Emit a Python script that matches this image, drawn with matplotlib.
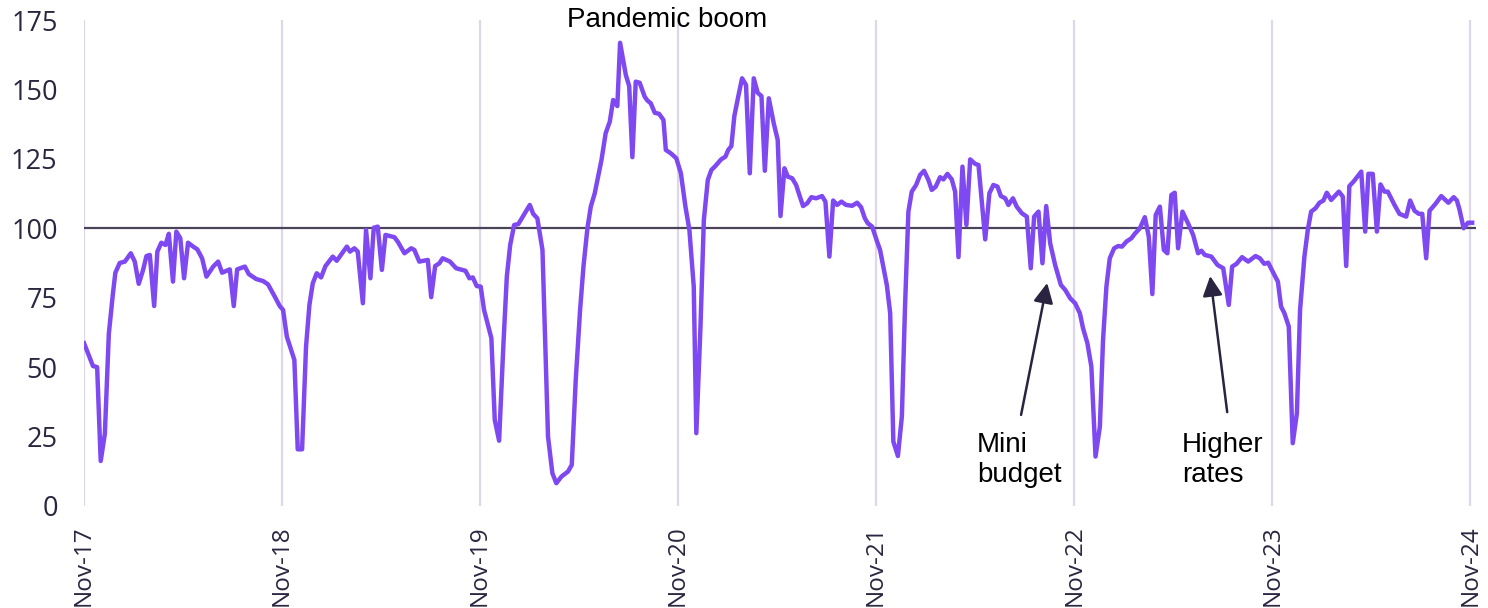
import matplotlib
matplotlib.use("Agg")
import matplotlib.pyplot as plt

years = [
    0.000, 0.045, 0.066, 0.084, 0.105, 0.125, 0.146, 0.158, 0.180, 0.206,
    0.236, 0.256, 0.276, 0.298, 0.315, 0.332, 0.354, 0.370, 0.390, 0.411,
    0.428, 0.449, 0.466, 0.486, 0.505, 0.525, 0.551, 0.572, 0.596, 0.618,
    0.652, 0.677, 0.697, 0.736, 0.756, 0.773, 0.812, 0.832, 0.870, 0.904,
    0.929, 0.963, 0.988, 1.005,
    1.024, 1.062, 1.079, 1.101, 1.121, 1.138, 1.155, 1.175, 1.197, 1.219,
    1.256, 1.276, 1.327, 1.343, 1.365, 1.382, 1.408, 1.424, 1.446, 1.463,
    1.483, 1.504, 1.522, 1.567, 1.584, 1.618, 1.652, 1.668, 1.693, 1.736,
    1.753, 1.773, 1.794, 1.811, 1.848, 1.879, 1.926, 1.946, 1.963, 1.983,
    2.003,
    2.020, 2.057, 2.074, 2.096, 2.118, 2.135, 2.152, 2.172, 2.193, 2.231,
    2.251, 2.268, 2.289, 2.315, 2.343, 2.365, 2.385, 2.411, 2.444, 2.463,
    2.483, 2.505, 2.522, 2.542, 2.559, 2.579, 2.613, 2.634, 2.655, 2.672,
    2.693, 2.707, 2.736, 2.753, 2.769, 2.786, 2.806, 2.831, 2.845, 2.862,
    2.882, 2.904, 2.926, 2.938, 2.963, 2.991, 3.014,
    3.037, 3.057, 3.079, 3.092, 3.113, 3.130, 3.150, 3.168, 3.188, 3.217,
    3.239, 3.253, 3.269, 3.284, 3.303, 3.323, 3.343, 3.362, 3.382, 3.402,
    3.421, 3.438, 3.458, 3.483, 3.503, 3.517, 3.537, 3.554, 3.576, 3.596,
    3.615, 3.631, 3.652, 3.673, 3.697, 3.727, 3.744, 3.764, 3.783, 3.803,
    3.825, 3.848, 3.879, 3.904, 3.924, 3.943, 3.958, 3.980, 4.005,
    4.020, 4.054, 4.071, 4.087, 4.110, 4.130, 4.146, 4.163, 4.180, 4.202,
    4.222, 4.242, 4.264, 4.281, 4.301, 4.323, 4.340, 4.360, 4.382, 4.399,
    4.416, 4.436, 4.456, 4.475, 4.500, 4.517, 4.551, 4.572, 4.592, 4.613,
    4.630, 4.652, 4.668, 4.691, 4.710, 4.736, 4.761, 4.781, 4.798, 4.820,
    4.840, 4.859, 4.879, 4.904, 4.933, 4.955, 4.980, 5.005,
    5.029, 5.045, 5.067, 5.087, 5.108, 5.130, 5.146, 5.163, 5.180, 5.202,
    5.222, 5.242, 5.264, 5.289, 5.306, 5.332, 5.357, 5.377, 5.395, 5.412,
    5.433, 5.453, 5.471, 5.491, 5.508, 5.525, 5.547, 5.579, 5.601, 5.626,
    5.643, 5.660, 5.693, 5.724, 5.753, 5.781, 5.798, 5.820, 5.848, 5.879,
    5.916, 5.938, 5.960, 5.980,
    6.007, 6.029, 6.045, 6.062, 6.084, 6.104, 6.125, 6.141, 6.163, 6.180,
    6.197, 6.219, 6.239, 6.259, 6.276, 6.298, 6.337, 6.357, 6.374, 6.390,
    6.411, 6.450, 6.470, 6.486, 6.508, 6.529, 6.547, 6.567, 6.584, 6.618,
    6.643, 6.677, 6.697, 6.719, 6.741, 6.758, 6.778, 6.795, 6.825, 6.854,
    6.890, 6.917, 6.933, 6.946, 6.967, 6.989, 7.010,
]
index_vals = [
    58.6, 50.4, 50.0, 16.2, 26.0, 62.0, 76.7, 84.0, 87.5, 88.0,
    91.0, 88.0, 80.0, 85.0, 90.0, 90.4, 72.0, 91.6, 94.8, 94.0,
    98.0, 80.8, 98.8, 96.4, 82.0, 94.8, 93.4, 92.4, 89.2, 82.6,
    86.2, 88.0, 84.0, 85.2, 72.0, 85.2, 86.2, 83.5, 81.7, 81.0,
    79.8, 75.4, 72.0, 70.6,
    61.0, 52.6, 20.4, 20.4, 57.4, 72.4, 80.2, 83.8, 82.3, 86.4,
    89.8, 88.3, 93.4, 91.6, 92.8, 91.6, 73.0, 99.4, 82.0, 100.2,
    100.6, 85.0, 97.6, 96.8, 95.2, 91.0, 92.8, 92.2, 88.0, 88.6,
    75.2, 86.4, 87.4, 89.2, 88.0, 85.6, 84.7, 82.0, 82.3, 79.2,
    79.0,
    70.6, 60.4, 31.0, 23.5, 58.6, 82.6, 94.0, 101.2, 101.5, 106.0,
    108.4, 105.2, 103.6, 92.2, 25.0, 11.8, 8.2, 10.6, 12.4, 14.8,
    45.4, 70.6, 86.2, 100.0, 107.8, 112.6, 124.6, 134.2, 138.4, 146.2,
    144.0, 166.8, 155.2, 151.2, 125.6, 152.8, 152.4, 147.4, 146.0, 145.0,
    141.6, 141.2, 139.0, 128.2, 127.0, 125.2, 119.8,
    107.8, 99.4, 79.0, 26.2, 64.6, 103.0, 117.4, 121.0, 122.4, 124.8,
    125.8, 128.2, 129.6, 140.4, 147.2, 154.0, 151.6, 119.8, 154.0, 148.8,
    147.6, 120.7, 146.8, 137.8, 131.8, 104.4, 121.6, 118.6, 118.0, 115.6,
    111.4, 108.0, 109.0, 111.2, 110.8, 111.6, 109.6, 89.8, 110.0, 108.4,
    109.6, 108.4, 108.1, 109.2, 107.6, 103.6, 101.8, 100.6, 95.2,
    92.2, 79.6, 69.4, 23.2, 18.0, 32.2, 71.8, 106.0, 113.2, 115.6,
    119.2, 120.7, 117.4, 113.8, 115.0, 118.4, 117.6, 119.6, 117.6, 113.2,
    89.6, 122.2, 101.2, 124.8, 123.2, 122.8, 96.0, 112.6, 115.6, 115.0,
    111.6, 110.8, 108.4, 110.8, 107.8, 105.4, 104.2, 85.6, 104.2, 106.0,
    87.4, 108.0, 94.6, 86.8, 79.6, 77.8, 74.8, 73.0,
    69.4, 64.0, 58.6, 50.2, 17.8, 28.6, 59.8, 79.0, 89.2, 92.8,
    93.6, 93.4, 95.2, 96.4, 98.0, 100.0, 104.0, 97.0, 76.3, 104.8,
    107.8, 92.2, 91.0, 112.0, 112.8, 92.8, 106.0, 101.2, 97.6, 91.0,
    91.9, 90.4, 89.8, 86.8, 85.6, 72.4, 86.2, 87.2, 89.6, 88.0,
    90.0, 89.2, 87.2, 87.6,
    83.8, 80.8, 71.8, 69.4, 64.6, 22.6, 33.4, 70.6, 89.8, 99.4,
    106.0, 107.2, 109.2, 110.0, 112.8, 110.2, 113.2, 111.4, 86.4, 115.2,
    116.8, 120.4, 98.8, 119.6, 119.6, 98.8, 115.8, 113.2, 113.2, 108.4,
    105.2, 104.2, 110.0, 106.3, 105.2, 105.2, 89.2, 106.3, 108.8, 111.6,
    109.2, 111.2, 110.0, 106.8, 100.0, 102.0, 102.0,
]
tick_labels = ['Nov-17', 'Nov-18', 'Nov-19', 'Nov-20',
               'Nov-21', 'Nov-22', 'Nov-23', 'Nov-24']
y_ticks = [0, 25, 50, 75, 100, 125, 150, 175]

fig = plt.figure(figsize=(14.88, 6.08), dpi=100)
ax = fig.add_axes([0.0565, 0.1678, 0.9355, 0.7993])

x_font = {'family': ['Open Sans', 'DejaVu Sans'], 'size': 17.5}
y_font = {'family': ['Open Sans', 'DejaVu Sans'], 'size': 19.5}
note_font = {'family': ['Liberation Sans', 'DejaVu Sans'], 'size': 20}
text_col = '#2b2540'

for i in range(len(tick_labels)):
    ax.axvline(i, color='#dcd7ea', lw=1.6, zorder=1)
ax.axhline(100, color='#4b4459', lw=1.6, zorder=2)
ax.plot(years, index_vals, color='#7f49f2', lw=3.2, zorder=3,
        solid_joinstyle='round')

ax.set_xlim(0, 7.03)
ax.set_ylim(0, 175)
ax.set_xticks(range(len(tick_labels)))
ax.set_xticklabels(tick_labels, rotation=90, color=text_col, **x_font)
ax.set_yticks(y_ticks)
ax.set_yticklabels([str(v) for v in y_ticks], color=text_col, **y_font)
ax.tick_params(axis='both', length=0)
ax.tick_params(axis='y', pad=19)
ax.tick_params(axis='x', pad=14)
for s in ax.spines.values():
    s.set_visible(False)

# annotations
ax.text(2.944, 175.0, 'Pandemic boom', ha='center', va='center',
        color='black', clip_on=False, **note_font)
ax.text(4.51, 16.6, 'Mini\nbudget', ha='left', va='center',
        color='black', linespacing=1.2, **note_font)
ax.text(5.545, 16.6, 'Higher\nrates', ha='left', va='center',
        color='black', linespacing=1.2, **note_font)
arrow = dict(arrowstyle='-|>', color='#2a2440', lw=1.8,
             mutation_scale=30, shrinkA=0, shrinkB=0)
ax.annotate('', xy=(4.864, 80.3), xytext=(4.732, 32.8), arrowprops=arrow)
ax.annotate('', xy=(5.687, 82.8), xytext=(5.773, 33.8), arrowprops=arrow)

fig.savefig('out.png', dpi=100)
